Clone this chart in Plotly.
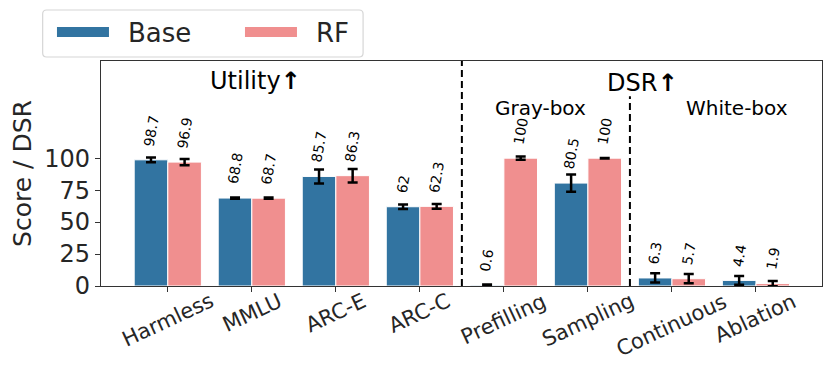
import plotly.graph_objects as go

categories = ["Harmless", "MMLU", "ARC-E", "ARC-C", "Prefilling", "Sampling", "Continuous", "Ablation"]
base_vals = [98.7, 68.8, 85.7, 62, 0.6, 80.5, 6.3, 4.4]
rf_vals = [96.9, 68.7, 86.3, 62.3, 100, 100, 5.7, 1.9]
base_err = [1.9, 0.5, 5.5, 1.7, 0.5, 6.8, 3.6, 3.4]
rf_err = [2.5, 0.5, 5.3, 1.8, 1.3, 0.2, 3.6, 2.0]
y_ticks = [0, 25, 50, 75, 100]

BLUE = "#3274A1"
PINK = "#F08F8F"
FONT = "DejaVu Sans"

x = list(range(len(categories)))

fig = go.Figure()

# bars with error bars
for vals, errs, color, name in [(base_vals, base_err, BLUE, "Base"), (rf_vals, rf_err, PINK, "RF")]:
    fig.add_trace(go.Bar(
        x=x, y=vals, name=name, showlegend=False,
        marker=dict(color=color, line=dict(color="white", width=1)),
        error_y=dict(type="data", array=errs, color="black", thickness=2.5, width=5),
    ))

# legend entries: dashed line trick gives a 52px swatch followed by a gap
for color, name in [(BLUE, "Base"), (PINK, "RF")]:
    fig.add_trace(go.Scatter(x=[None], y=[None], mode="lines", name=name,
                             line=dict(color=color, width=18, dash="52px,400px")))

# value labels, a fixed step above each bar
for offset, vals in [(-0.2, base_vals), (0.2, rf_vals)]:
    for i, v in enumerate(vals):
        fig.add_annotation(x=i + offset, y=v + 8, text=f"{v:g}", textangle=-80,
                           xanchor="center", yanchor="bottom", showarrow=False,
                           font=dict(size=14, color="black"))

# x tick labels, centred on ticks
for i, c in enumerate(categories):
    fig.add_annotation(x=i, y=0, yref="paper", text=c, textangle=-25,
                       xanchor="center", yanchor="top", yshift=0, showarrow=False,
                       font=dict(size=21, color="#262626"))

# group labels
for xx, yy, txt, size in [(1.04, 160, "Utility<b>↑</b>", 24), (5.65, 159, "DSR<b>↑</b>", 24),
                          (4.44, 139.6, "Gray-box", 20), (6.78, 139.6, "White-box", 20)]:
    fig.add_annotation(x=xx, y=yy, text=txt, showarrow=False, xanchor="center", yanchor="middle",
                       font=dict(size=size, color="black"))

# separators
fig.add_shape(type="line", x0=3.5, x1=3.5, y0=0, y1=1, xref="x", yref="paper",
              line=dict(color="black", width=2, dash="7px,4px"))
fig.add_shape(type="line", x0=5.5, x1=5.5, y0=0, y1=148.4, xref="x", yref="y",
              line=dict(color="black", width=2, dash="7px,4px"))

# legend frame (rounded)
x0, x1, y0, y1 = -0.0809, 0.3635, 1.0178, 1.2267
rx, ry = 0.0055, 0.0178
frame = (f"M{x0 + rx},{y0} L{x1 - rx},{y0} Q{x1},{y0} {x1},{y0 + ry} "
         f"L{x1},{y1 - ry} Q{x1},{y1} {x1 - rx},{y1} L{x0 + rx},{y1} "
         f"Q{x0},{y1} {x0},{y1 - ry} L{x0},{y0 + ry} Q{x0},{y0} {x0 + rx},{y0} Z")
fig.add_shape(type="path", path=frame, xref="paper", yref="paper",
              line=dict(color="#d6d6d6", width=1.2), fillcolor="rgba(0,0,0,0)")

# page body has an 8px margin, so margins are shifted by 8px
fig.update_layout(
    width=831, height=372,
    margin=dict(l=93, r=17, t=53, b=94, autoexpand=False),
    plot_bgcolor="white", paper_bgcolor="white",
    font=dict(family=FONT, color="#262626"),
    barmode="group", bargap=0.2, bargroupgap=0,
    legend=dict(orientation="h", x=-0.068, y=1.129, xanchor="left", yanchor="middle",
                borderwidth=0, font=dict(size=26), bgcolor="rgba(0,0,0,0)",
                itemwidth=66, entrywidth=107),
)
fig.update_xaxes(range=[-0.795, 7.786], tickvals=x, showticklabels=False,
                 ticks="outside", ticklen=5, tickcolor="#333", showgrid=False, zeroline=False,
                 showline=True, linecolor="#333", linewidth=1.2, mirror=True)
fig.update_yaxes(range=[0, 176], tickvals=y_ticks, tickfont=dict(size=24),
                 ticks="outside", ticklen=5, tickcolor="#333", showgrid=False, zeroline=False,
                 showline=True, linecolor="#333", linewidth=1.2, mirror=True,
                 title=dict(text="Score / DSR", font=dict(size=25), standoff=11))

fig.write_html("out.html")
